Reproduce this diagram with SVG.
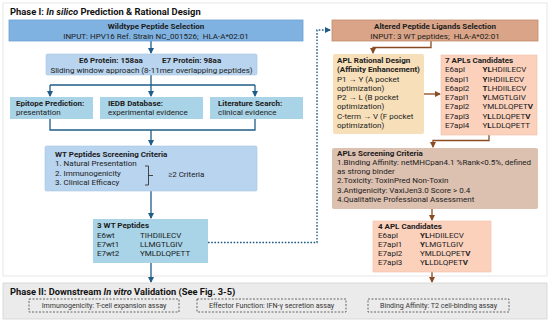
<svg xmlns="http://www.w3.org/2000/svg" width="550" height="322" viewBox="0 0 550 322">
<style>
text{font-family:Roboto,"Liberation Sans",Arial,sans-serif;font-size:8px;fill:#1c1c1c}
.b{font-weight:bold}
.i{font-style:italic}
.c{text-anchor:middle}
.title{font-size:9.4px;font-weight:bold;fill:#111}
.title2{font-size:9.3px;font-weight:bold;fill:#111}
.ph2{font-size:7.1px;fill:#333;text-anchor:middle}
.blue{stroke:#1f5c87;stroke-width:1.3;fill:none}
.brown{stroke:#8a4a22;stroke-width:1.3;fill:none}
.dash{fill:none;stroke:#444;stroke-width:0.8;stroke-dasharray:2 1.5}
</style>
<defs>
<marker id="ab" viewBox="0 0 6 6" refX="5" refY="3" markerWidth="6" markerHeight="6" markerUnits="userSpaceOnUse" orient="auto"><path d="M0,0L6,3L0,6z" fill="#1f5c87"/></marker>
<marker id="ar" viewBox="0 0 6 6" refX="5" refY="3" markerWidth="6" markerHeight="6" markerUnits="userSpaceOnUse" orient="auto"><path d="M0,0L6,3L0,6z" fill="#8a4a22"/></marker>
</defs>
<rect x="0" y="0" width="550" height="322" fill="#ffffff"/>
<rect x="3" y="3" width="544" height="273" fill="#ffffff" stroke="#e2e2e2" stroke-width="0.8"/>
<text class="title" x="10" y="15">Phase I: <tspan class="i">In silico</tspan> Prediction &amp; Rational Design</text>

<g id="connectors">
<path class="blue" d="M151,41V53" marker-end="url(#ab)"/>
<path class="blue" d="M151,75V85M50,85H255"/>
<path class="blue" d="M50,85V96" marker-end="url(#ab)"/>
<path class="blue" d="M151,85V96" marker-end="url(#ab)"/>
<path class="blue" d="M255,85V96" marker-end="url(#ab)"/>
<path class="blue" d="M50,119V130H255V119M151,130V145" marker-end="url(#ab)"/>
<path class="blue" d="M151,191V218" marker-end="url(#ab)"/>
<path class="blue" d="M151,263V282" marker-end="url(#ab)"/>
<path d="M208,242.5H317V30H330" fill="none" stroke="#1f5c87" stroke-width="1.4" stroke-dasharray="1.6 1.6" marker-end="url(#ab)"/>
<path class="brown" d="M431,41V47.5H373V53" marker-end="url(#ar)"/>
<path class="brown" d="M424,94H440" marker-end="url(#ar)"/>
<path class="brown" d="M489,135V140.5H433V147" marker-end="url(#ar)"/>
<path class="brown" d="M432,209V220" marker-end="url(#ar)"/>
<path class="brown" d="M432,272V282" marker-end="url(#ar)"/>
</g>

<g id="wildtype">
<rect x="9" y="20" width="294" height="21" fill="#80b2e1" stroke="#6c9ed1" stroke-width="0.8"/>
<text class="b c" x="156" y="29">Wildtype Peptide Selection</text>
<text class="c" x="156" y="38.5" xml:space="preserve">INPUT: HPV16 Ref. Strain NC_001526;  HLA-A*02:01</text>
</g>

<g id="proteins">
<rect x="46" y="54" width="211" height="21" rx="1.5" fill="#b8d4ee" stroke="#a8c6e4" stroke-width="0.6"/>
<text class="b" x="79" y="63">E6 Protein: 158aa</text>
<text class="b" x="162" y="63">E7 Protein: 98aa</text>
<text class="c" x="151.5" y="72.5">Sliding window approach (8-11mer overlapping peptides)</text>
</g>

<g id="epitope">
<rect x="10" y="97" width="83" height="22" fill="#a9d4e7"/>
<text class="b" x="16" y="106">Epitope Prediction:</text>
<text x="16" y="114.5">presentation</text>
</g>
<g id="iedb">
<rect x="100" y="97" width="103" height="22" fill="#a9d4e7"/>
<text class="b" x="108" y="106">IEDB Database:</text>
<text x="108" y="114.5">experimental evidence</text>
</g>
<g id="literature">
<rect x="210" y="97" width="93" height="22" fill="#a9d4e7"/>
<text class="b" x="218" y="106">Literature Search:</text>
<text x="218" y="114.5">clinical evidence</text>
</g>

<g id="wt-criteria">
<rect x="45" y="146" width="212" height="45" rx="1.5" fill="#b8d4ee" stroke="#a8c6e4" stroke-width="0.6"/>
<text class="b" x="55" y="156.5">WT Peptides Screening Criteria</text>
<text x="55" y="166">1. Natural Presentation</text>
<text x="55" y="175.5">2. Immunogenicity</text>
<text x="55" y="185">3. Clinical Efficacy</text>
<path d="M145,166H148.5V185H145M148.5,175.5H153" fill="none" stroke="#222" stroke-width="0.8"/>
<text x="168" y="177">≥2 Criteria</text>
</g>

<g id="wt-peptides">
<rect x="93" y="219" width="115" height="44" fill="#a9d4e7"/>
<text class="b" x="97" y="228">3 WT Peptides</text>
<text x="97" y="237.5">E6wt</text><text x="140" y="237.5">TIHDIILECV</text>
<text x="97" y="246.5">E7wt1</text><text x="140" y="246.5">LLMGTLGIV</text>
<text x="97" y="255.5">E7wt2</text><text x="140" y="255.5">YMLDLQPETT</text>
</g>

<g id="altered">
<rect x="332" y="20" width="206" height="21" fill="#d9a487" stroke="#c48b6d" stroke-width="0.8"/>
<text class="b c" x="435" y="29">Altered Peptide Ligands Selection</text>
<text class="c" x="435" y="38.5" xml:space="preserve">INPUT: 3 WT peptides;  HLA-A*02:01</text>
</g>

<g id="rational">
<rect x="333" y="54" width="91" height="80" rx="2" fill="#f6dfb9"/>
<text class="b" x="337" y="63">APL Rational Design</text>
<text class="b" x="337" y="72">(Affinity Enhancement)</text>
<text x="337" y="81.5">P1 → Y (A pocket</text>
<text x="337" y="91">optimization)</text>
<text x="337" y="100">P2 → L (B pocket</text>
<text x="337" y="109">optimization)</text>
<text x="337" y="118.5">C-term → V (F pocket</text>
<text x="337" y="127.5">optimization)</text>
</g>

<g id="apl7">
<rect x="441" y="55" width="96" height="80" fill="#fbd1bc" stroke="#efbfa8" stroke-width="0.6"/>
<text class="b" x="445" y="63">7 APLs Candidates</text>
<text x="445" y="72">E6apl</text><text x="482.5" y="72"><tspan class="b">YL</tspan>HDIILECV</text>
<text x="445" y="81.5">E6apl1</text><text x="482.5" y="81.5"><tspan class="b">Y</tspan>IHDIILECV</text>
<text x="445" y="91">E6apl2</text><text x="482.5" y="91"><tspan class="b">T</tspan>LHDIILECV</text>
<text x="445" y="100">E7apl1</text><text x="482.5" y="100"><tspan class="b">Y</tspan>LMGTLGIV</text>
<text x="445" y="109">E7apl2</text><text x="482.5" y="109">YMLDLQPET<tspan class="b">V</tspan></text>
<text x="445" y="118.5">E7apl3</text><text x="482.5" y="118.5">Y<tspan class="b">L</tspan>LDLQPET<tspan class="b">V</tspan></text>
<text x="445" y="127.5">E7apl4</text><text x="482.5" y="127.5">Y<tspan class="b">L</tspan>LDLQPETT</text>
</g>

<g id="apl-criteria">
<rect x="332" y="148" width="206" height="61" rx="2" fill="#dcc0b0"/>
<text class="b" x="337" y="156">APLs Screening Criteria</text>
<text x="337" y="165">1.Binding Affinity: netMHCpan4.1 %Rank&lt;0.5%, defined</text>
<text x="337" y="174">as strong binder</text>
<text x="337" y="183.3">2.Toxicity: ToxinPred Non-Toxin</text>
<text x="337" y="192.7">3.Antigenicity: VaxiJen3.0 Score &gt; 0.4</text>
<text x="337" y="202">4.Qualitative Professional Assessment</text>
</g>

<g id="apl4">
<rect x="373" y="221" width="118" height="51" fill="#fbd1bc" stroke="#efbfa8" stroke-width="0.6"/>
<text class="b" x="378" y="229">4 APL Candidates</text>
<text x="378" y="238">E6apl</text><text x="420" y="238"><tspan class="b">YL</tspan>HDIILECV</text>
<text x="378" y="247">E7apl1</text><text x="420" y="247"><tspan class="b">Y</tspan>LMGTLGIV</text>
<text x="378" y="256">E7apl2</text><text x="420" y="256">YMLDLQPET<tspan class="b">V</tspan></text>
<text x="378" y="265">E7apl3</text><text x="420" y="265">Y<tspan class="b">L</tspan>LDLQPET<tspan class="b">V</tspan></text>
</g>

<g id="phase2">
<rect x="3" y="283" width="544" height="36" fill="#ebebeb" stroke="#d2d2d2" stroke-width="0.8"/>
<text class="title2" x="10" y="294.5">Phase II: Downstream <tspan class="i">In vitro</tspan> Validation (See Fig. 3-5)</text>
</g>
<g id="immunogenicity">
<rect class="dash" x="29" y="299" width="150" height="13"/>
<text class="ph2" x="104" y="308">Immunogenicity: T-cell expansion assay</text>
</g>
<g id="effector">
<rect class="dash" x="197" y="299" width="149" height="13"/>
<text class="ph2" x="271.5" y="308">Effector Function: IFN-γ secretion assay</text>
</g>
<g id="binding">
<rect class="dash" x="368" y="299" width="141" height="13"/>
<text class="ph2" x="438.5" y="308">Binding Affinity: T2 cell-binding assay</text>
</g>
</svg>
